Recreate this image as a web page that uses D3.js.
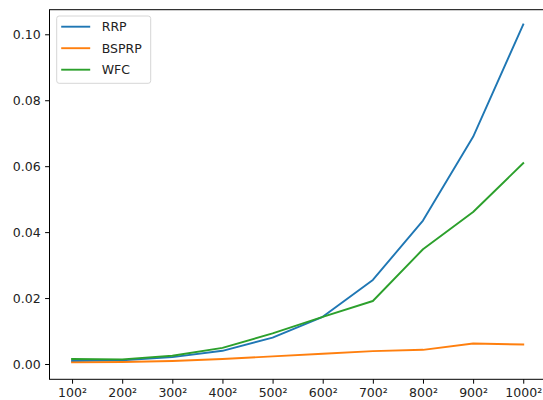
<!DOCTYPE html>
<html>
<head>
<meta charset="utf-8">
<script src="https://cdn.jsdelivr.net/npm/d3@7"></script>
<style>
  html, body { margin: 0; padding: 0; background: #fff; }
  svg { display: block; }
  text { font-family: "DejaVu Sans", sans-serif; }
</style>
</head>
<body>
<svg id="chart" width="543" height="400"></svg>
<script>
// Problem sizes shown on the x axis
const sizeLabels = ["100²", "200²", "300²", "400²", "500²", "600²", "700²", "800²", "900²", "1000²"];

// Runtime for each method
const rrp   = [0.0009, 0.0011, 0.0021, 0.0040, 0.0080, 0.0143, 0.0255, 0.0435, 0.0689, 0.1030];
const bsprp = [0.0005, 0.0006, 0.0009, 0.0015, 0.0023, 0.0031, 0.0039, 0.0043, 0.0062, 0.0059];
const wfc   = [0.0015, 0.0014, 0.0025, 0.0049, 0.0093, 0.0143, 0.0191, 0.0348, 0.0461, 0.0609];

const seriesNames = ["RRP", "BSPRP", "WFC"];
const yTicks = [0.00, 0.02, 0.04, 0.06, 0.08, 0.10];
const yDomain = [-0.00464, 0.10746];

const series = [
  { name: seriesNames[0], values: rrp,   color: "#1f77b4" },
  { name: seriesNames[1], values: bsprp, color: "#ff7f0e" },
  { name: seriesNames[2], values: wfc,   color: "#2ca02c" }
];

const svg = d3.select("#chart");
const plotLeft = 49.5, plotRight = 545.8, plotTop = 9.7, plotBottom = 379.3;

// x: index positions with 5% padding on either side
const n = sizeLabels.length;
const pad = (n - 1) * 0.05;
const x = d3.scaleLinear().domain([-pad, n - 1 + pad]).range([plotLeft, plotRight]);
const y = d3.scaleLinear().domain(yDomain).range([plotBottom, plotTop]);

const fontSize = 12.5;

// Lines
const line = d3.line().x((d, i) => x(i)).y(d => y(d));
const plot = svg.append("g");
series.forEach(s => {
  plot.append("path")
    .datum(s.values)
    .attr("d", line)
    .attr("fill", "none")
    .attr("stroke", s.color)
    .attr("stroke-width", 1.9)
    .attr("stroke-linejoin", "round")
    .attr("stroke-linecap", "square");
});

// Axes
const xAxis = d3.axisBottom(x)
  .tickValues(d3.range(n))
  .tickFormat(i => sizeLabels[i])
  .tickSize(4.4)
  .tickPadding(4.4);
const yAxis = d3.axisLeft(y)
  .tickValues(yTicks)
  .tickFormat(d3.format(".2f"))
  .tickSize(4.4)
  .tickPadding(4.4);

const gx = svg.append("g").attr("transform", `translate(0,${plotBottom})`).call(xAxis);
const gy = svg.append("g").attr("transform", `translate(${plotLeft},0)`).call(yAxis);
[gx, gy].forEach(g => {
  g.select(".domain").remove();
  g.selectAll(".tick line").attr("stroke", "#000").attr("stroke-width", 1);
  g.selectAll(".tick text").attr("fill", "#222").attr("font-size", fontSize)
    .attr("font-family", "DejaVu Sans, sans-serif");
});

// Frame
svg.append("rect")
  .attr("x", plotLeft).attr("y", plotTop)
  .attr("width", plotRight - plotLeft).attr("height", plotBottom - plotTop)
  .attr("fill", "none").attr("stroke", "#000").attr("stroke-width", 1);

// Legend
const lg = svg.append("g").attr("transform", "translate(56.7,16)");
lg.append("rect")
  .attr("width", 94).attr("height", 67.3)
  .attr("rx", 2.5).attr("ry", 2.5)
  .attr("fill", "#fff").attr("fill-opacity", 0.8)
  .attr("stroke", "#d6d6d6").attr("stroke-width", 1);
series.forEach((s, i) => {
  const yy = 10.7 + i * 21.5;
  lg.append("line")
    .attr("x1", 4.5).attr("x2", 33.5)
    .attr("y1", yy).attr("y2", yy)
    .attr("stroke", s.color).attr("stroke-width", 1.9);
  lg.append("text")
    .attr("x", 45).attr("y", yy)
    .attr("dy", "0.36em")
    .attr("font-size", fontSize)
    .attr("fill", "#222")
    .text(s.name);
});
</script>
</body>
</html>
